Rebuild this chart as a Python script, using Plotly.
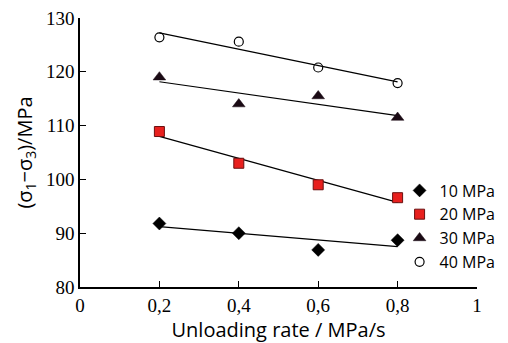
import numpy as np
import plotly.graph_objects as go

rates = [0.2, 0.4, 0.6, 0.8]
s10 = [91.8, 90.0, 86.9, 88.7]
s20 = [108.9, 103.0, 99.0, 96.6]
s30 = [119.0, 114.0, 115.5, 111.5]
s40 = [126.4, 125.6, 120.8, 117.9]
names = ["10 MPa", "20 MPa", "30 MPa", "40 MPa"]
x_ticks = [0, 0.2, 0.4, 0.6, 0.8, 1]
x_ticktext = ["0", "0,2", "0,4", "0,6", "0,8", "1"]
y_ticks = [80, 90, 100, 110, 120, 130]

styles = [
    dict(symbol="diamond", size=10, color="black", line=dict(color="black", width=0.5)),
    dict(symbol="square", size=10, color="#e8201e", line=dict(color="#6a1010", width=1)),
    dict(symbol="triangle-up", size=11, color="#1a0a14", line=dict(color="#1a0a14", width=0.5)),
    dict(symbol="circle-open", size=9, color="black", line=dict(color="black", width=1.2)),
]

fig = go.Figure()
series = [s10, s20, s30, s40]
for vals in series:
    k, b = np.polyfit(rates, vals, 1)
    xs = [rates[0], rates[-1]]
    fig.add_trace(go.Scatter(x=xs, y=[k * v + b for v in xs], mode="lines",
                             line=dict(color="black", width=1.2), showlegend=False,
                             hoverinfo="skip"))
for vals, nm, st in zip(series, names, styles):
    fig.add_trace(go.Scatter(x=rates, y=vals, mode="markers", name=nm, marker=st))

fig.update_layout(
    width=508, height=343,
    margin=dict(l=80, r=31, t=18, b=56, autoexpand=False),
    paper_bgcolor="white", plot_bgcolor="white",
    showlegend=True,
    legend=dict(x=0.805, y=0.422, xanchor="left", yanchor="top",
                font=dict(family="Open Sans, sans-serif", size=16, color="black"),
                bgcolor="rgba(0,0,0,0)", itemwidth=30, tracegroupgap=0),
    xaxis=dict(range=[0, 1], tickvals=x_ticks, ticktext=x_ticktext,
               showgrid=False, zeroline=False, showline=True, linecolor="black",
               linewidth=1.5, ticks="inside", ticklen=6, tickcolor="black",
               tickfont=dict(family="Liberation Serif, serif", size=19, color="black"),
               title=dict(text="Unloading rate / MPa/s", standoff=6,
                          font=dict(family="Open Sans, sans-serif", size=20, color="black"))),
    yaxis=dict(range=[80, 130], tickvals=y_ticks,
               showgrid=False, zeroline=False, showline=True, linecolor="black",
               linewidth=1.5, ticks="inside", ticklen=6, tickcolor="black",
               tickfont=dict(family="Liberation Serif, serif", size=19, color="black"),
               title=dict(text="(σ<sub>1</sub>−σ<sub>3</sub>)/MPa", standoff=8,
                          font=dict(family="Open Sans, sans-serif", size=20, color="black"))),
)

fig.write_html("out.html")
